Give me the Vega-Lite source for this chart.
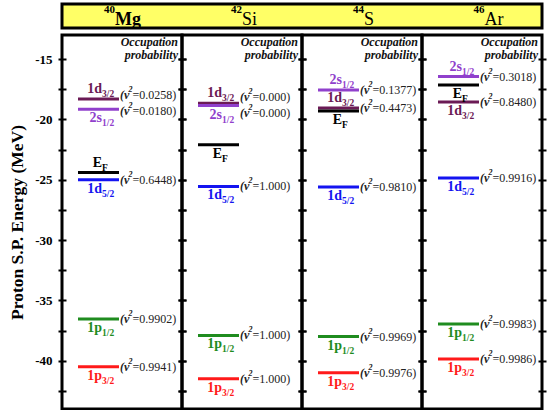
{
"$schema":"https://vega.github.io/schema/vega-lite/v6.json",
"background":"white",
"padding":{"left":7,"top":2,"right":5,"bottom":0},
"config":{"font":"'Liberation Serif', 'Times New Roman', serif","text":{"font":"'Liberation Serif', 'Times New Roman', serif"},"axis":{"labelFont":"'Liberation Serif', 'Times New Roman', serif","titleFont":"'Liberation Serif', 'Times New Roman', serif"},"view":{"stroke":"black","strokeWidth":3}},
"datasets":{
"nuclei":[{"nuc":"Mg","A":"40"},{"nuc":"Si","A":"42"},{"nuc":"S","A":"44"},{"nuc":"Ar","A":"46"}],
"levels":[
{"nuc":"Mg","lvl":"1d3/2","main":"1d","sub":"3/2","e":-18.3,"v2":"0.0258","side":"above"},
{"nuc":"Mg","lvl":"2s1/2","main":"2s","sub":"1/2","e":-19.15,"v2":"0.0180","side":"below"},
{"nuc":"Mg","lvl":"EF","main":"E","sub":"F","e":-24.4,"v2":null,"side":"above"},
{"nuc":"Mg","lvl":"1d5/2","main":"1d","sub":"5/2","e":-25.0,"v2":"0.6448","side":"below"},
{"nuc":"Mg","lvl":"1p1/2","main":"1p","sub":"1/2","e":-36.55,"v2":"0.9902","side":"below"},
{"nuc":"Mg","lvl":"1p3/2","main":"1p","sub":"3/2","e":-40.5,"v2":"0.9941","side":"below"},
{"nuc":"Si","lvl":"1d3/2","main":"1d","sub":"3/2","e":-18.65,"v2":"0.000","side":"above"},
{"nuc":"Si","lvl":"2s1/2","main":"2s","sub":"1/2","e":-18.85,"v2":"0.000","side":"below"},
{"nuc":"Si","lvl":"EF","main":"E","sub":"F","e":-22.1,"v2":null,"side":"below"},
{"nuc":"Si","lvl":"1d5/2","main":"1d","sub":"5/2","e":-25.55,"v2":"1.000","side":"below"},
{"nuc":"Si","lvl":"1p1/2","main":"1p","sub":"1/2","e":-37.9,"v2":"1.000","side":"below"},
{"nuc":"Si","lvl":"1p3/2","main":"1p","sub":"3/2","e":-41.5,"v2":"1.000","side":"below"},
{"nuc":"S","lvl":"2s1/2","main":"2s","sub":"1/2","e":-17.55,"v2":"0.1377","side":"above"},
{"nuc":"S","lvl":"1d3/2","main":"1d","sub":"3/2","e":-19.05,"v2":"0.4473","side":"above"},
{"nuc":"S","lvl":"EF","main":"E","sub":"F","e":-19.3,"v2":null,"side":"below"},
{"nuc":"S","lvl":"1d5/2","main":"1d","sub":"5/2","e":-25.6,"v2":"0.9810","side":"below"},
{"nuc":"S","lvl":"1p1/2","main":"1p","sub":"1/2","e":-38.0,"v2":"0.9969","side":"below"},
{"nuc":"S","lvl":"1p3/2","main":"1p","sub":"3/2","e":-41.0,"v2":"0.9976","side":"below"},
{"nuc":"Ar","lvl":"2s1/2","main":"2s","sub":"1/2","e":-16.45,"v2":"0.3018","side":"above"},
{"nuc":"Ar","lvl":"EF","main":"E","sub":"F","e":-17.15,"v2":null,"side":"below"},
{"nuc":"Ar","lvl":"1d3/2","main":"1d","sub":"3/2","e":-18.55,"v2":"0.8480","side":"below"},
{"nuc":"Ar","lvl":"1d5/2","main":"1d","sub":"5/2","e":-24.85,"v2":"0.9916","side":"below"},
{"nuc":"Ar","lvl":"1p1/2","main":"1p","sub":"1/2","e":-36.95,"v2":"0.9983","side":"below"},
{"nuc":"Ar","lvl":"1p3/2","main":"1p","sub":"3/2","e":-39.85,"v2":"0.9986","side":"below"}
]},
"spacing":7,
"bounds":"flush",
"vconcat":[
{"width":480,"height":24,"data":{"name":"nuclei"},
 "view":{"fill":"#ffff66","stroke":"black","strokeWidth":3},
 "layer":[
  {"transform":[{"filter":"datum.nuc==='Mg'"}],"mark":{"type":"text","align":"right","baseline":"alphabetic","dx":-7,"dy":-3.5,"fontSize":11,"fontWeight":"bold","color":"black"},"encoding":{"x":{"field":"nuc","type":"nominal","sort":["Mg","Si","S","Ar"],"scale":{"type":"point","domain":["Mg","Si","S","Ar"],"padding":0.5},"axis":null},"text":{"field":"A"}}},
  {"transform":[{"filter":"datum.nuc==='Mg'"}],"mark":{"type":"text","align":"left","baseline":"alphabetic","dx":-7,"dy":9,"fontSize":18,"fontWeight":"bold","color":"black"},"encoding":{"x":{"field":"nuc","type":"nominal","sort":["Mg","Si","S","Ar"],"scale":{"type":"point","domain":["Mg","Si","S","Ar"],"padding":0.5},"axis":null},"text":{"field":"nuc"}}},
  {"transform":[{"filter":"datum.nuc==='Si'"}],"mark":{"type":"text","align":"right","baseline":"alphabetic","dx":0,"dy":-3.5,"fontSize":11,"fontWeight":"bold","color":"black"},"encoding":{"x":{"field":"nuc","type":"nominal","sort":["Mg","Si","S","Ar"],"scale":{"type":"point","domain":["Mg","Si","S","Ar"],"padding":0.5},"axis":null},"text":{"field":"A"}}},
  {"transform":[{"filter":"datum.nuc==='Si'"}],"mark":{"type":"text","align":"left","baseline":"alphabetic","dx":0,"dy":9,"fontSize":18,"color":"black"},"encoding":{"x":{"field":"nuc","type":"nominal","sort":["Mg","Si","S","Ar"],"scale":{"type":"point","domain":["Mg","Si","S","Ar"],"padding":0.5},"axis":null},"text":{"field":"nuc"}}},
  {"transform":[{"filter":"datum.nuc==='S'"}],"mark":{"type":"text","align":"right","baseline":"alphabetic","dx":2,"dy":-3.5,"fontSize":11,"fontWeight":"bold","color":"black"},"encoding":{"x":{"field":"nuc","type":"nominal","sort":["Mg","Si","S","Ar"],"scale":{"type":"point","domain":["Mg","Si","S","Ar"],"padding":0.5},"axis":null},"text":{"field":"A"}}},
  {"transform":[{"filter":"datum.nuc==='S'"}],"mark":{"type":"text","align":"left","baseline":"alphabetic","dx":2,"dy":9,"fontSize":18,"color":"black"},"encoding":{"x":{"field":"nuc","type":"nominal","sort":["Mg","Si","S","Ar"],"scale":{"type":"point","domain":["Mg","Si","S","Ar"],"padding":0.5},"axis":null},"text":{"field":"nuc"}}},
  {"transform":[{"filter":"datum.nuc==='Ar'"}],"mark":{"type":"text","align":"right","baseline":"alphabetic","dx":2.5,"dy":-3.5,"fontSize":11,"fontWeight":"bold","color":"black"},"encoding":{"x":{"field":"nuc","type":"nominal","sort":["Mg","Si","S","Ar"],"scale":{"type":"point","domain":["Mg","Si","S","Ar"],"padding":0.5},"axis":null},"text":{"field":"A"}}},
  {"transform":[{"filter":"datum.nuc==='Ar'"}],"mark":{"type":"text","align":"left","baseline":"alphabetic","dx":2.5,"dy":9,"fontSize":18,"color":"black"},"encoding":{"x":{"field":"nuc","type":"nominal","sort":["Mg","Si","S","Ar"],"scale":{"type":"point","domain":["Mg","Si","S","Ar"],"padding":0.5},"axis":null},"text":{"field":"nuc"}}}
 ]},
{"spacing":0,"bounds":"flush","hconcat":[
 {"width":120,"height":374,"view":{"stroke":"black","strokeWidth":3},
  "data":{"name":"levels"},
  "transform":[{"filter":"datum.nuc==='Mg'"},{"calculate":"'=' + datum.v2 + ')'","as":"v2lab"}],
  "resolve":{"axis":{"y":"independent"}},
  "layer":[
   {"mark":{"type":"rule","strokeWidth":3},"encoding":{"x":{"datum":16,"type":"quantitative","scale":{"domain":[0,120]},"axis":null},"x2":{"datum":57},"y":{"field":"e","type":"quantitative","scale":{"domain":[-44,-13],"nice":false,"zero":false},"axis":{"orient":"left","values":[-42.5,-40,-37.5,-35,-32.5,-30,-27.5,-25,-22.5,-20,-17.5,-15],"labelExpr":"datum.value % 5 === 0 ? '' + datum.value : ''","domain":false,"grid":false,"tickSize":8,"tickWidth":2,"tickColor":"black","offset":-4,"labelFontWeight":"bold","labelFontSize":13,"labelColor":"black","labelPadding":6,"title":"Proton S.P. Energy (MeV)","titleFontSize":17.5,"titleFontWeight":"bold","titleColor":"black","titlePadding":8}},"color":{"field":"lvl","type":"nominal","scale":{"domain":["1d3/2","2s1/2","EF","1d5/2","1p1/2","1p3/2"],"range":["#6b1a55","#9040cc","#000000","#1414f0","#1f8c1f","#ff1a1a"]},"legend":null}}},
   {"transform":[{"filter":"datum.side==='above'"}],"mark":{"type":"text","align":"right","baseline":"alphabetic","dy":-6,"fontSize":14,"fontWeight":"bold"},"encoding":{"x":{"datum":40,"type":"quantitative","scale":{"domain":[0,120]},"axis":null},"y":{"field":"e","type":"quantitative","axis":{"orient":"right","values":[-42.5,-40,-37.5,-35,-32.5,-30,-27.5,-25,-22.5,-20,-17.5,-15],"labels":false,"domain":false,"grid":false,"tickSize":8,"tickWidth":2,"tickColor":"black","offset":-4,"title":null}},"text":{"field":"main"},"color":{"field":"lvl","type":"nominal","legend":null}}},
   {"transform":[{"filter":"datum.side==='above'"}],"mark":{"type":"text","align":"left","baseline":"alphabetic","dy":-2,"fontSize":9.5,"fontWeight":"bold"},"encoding":{"x":{"datum":40,"type":"quantitative","scale":{"domain":[0,120]},"axis":null},"y":{"field":"e","type":"quantitative","axis":null},"text":{"field":"sub"},"color":{"field":"lvl","type":"nominal","legend":null}}},
   {"transform":[{"filter":"datum.side==='below'"}],"mark":{"type":"text","align":"right","baseline":"alphabetic","dy":13,"fontSize":14,"fontWeight":"bold"},"encoding":{"x":{"datum":40,"type":"quantitative","scale":{"domain":[0,120]},"axis":null},"y":{"field":"e","type":"quantitative","axis":null},"text":{"field":"main"},"color":{"field":"lvl","type":"nominal","legend":null}}},
   {"transform":[{"filter":"datum.side==='below'"}],"mark":{"type":"text","align":"left","baseline":"alphabetic","dy":17,"fontSize":9.5,"fontWeight":"bold"},"encoding":{"x":{"datum":40,"type":"quantitative","scale":{"domain":[0,120]},"axis":null},"y":{"field":"e","type":"quantitative","axis":null},"text":{"field":"sub"},"color":{"field":"lvl","type":"nominal","legend":null}}},
   {"transform":[{"filter":"isValid(datum.v2) && datum.lvl!=='1d3/2' && datum.lvl!=='2s1/2'"}],"layer":[
     {"mark":{"type":"text","align":"left","baseline":"middle","fontSize":12,"fontStyle":"italic","fontWeight":"bold","color":"#222"},"encoding":{"x":{"datum":58,"type":"quantitative","scale":{"domain":[0,120]},"axis":null},"y":{"field":"e","type":"quantitative","axis":null},"text":{"value":"(v"}}},
     {"mark":{"type":"text","align":"left","baseline":"middle","dx":8.5,"dy":-5,"fontSize":8,"fontStyle":"italic","fontWeight":"bold","color":"#222"},"encoding":{"x":{"datum":58,"type":"quantitative","scale":{"domain":[0,120]},"axis":null},"y":{"field":"e","type":"quantitative","axis":null},"text":{"value":"2"}}},
     {"mark":{"type":"text","align":"left","baseline":"middle","dx":12.5,"fontSize":12,"color":"#222"},"encoding":{"x":{"datum":58,"type":"quantitative","scale":{"domain":[0,120]},"axis":null},"y":{"field":"e","type":"quantitative","axis":null},"text":{"field":"v2lab"}}}
   ]},
   {"transform":[{"filter":"datum.lvl==='1d3/2'"}],"layer":[
     {"mark":{"type":"text","align":"left","baseline":"middle","dy":-4,"fontSize":12,"fontStyle":"italic","fontWeight":"bold","color":"#222"},"encoding":{"x":{"datum":58,"type":"quantitative","scale":{"domain":[0,120]},"axis":null},"y":{"field":"e","type":"quantitative","axis":null},"text":{"value":"(v"}}},
     {"mark":{"type":"text","align":"left","baseline":"middle","dx":8.5,"dy":-9,"fontSize":8,"fontStyle":"italic","fontWeight":"bold","color":"#222"},"encoding":{"x":{"datum":58,"type":"quantitative","scale":{"domain":[0,120]},"axis":null},"y":{"field":"e","type":"quantitative","axis":null},"text":{"value":"2"}}},
     {"mark":{"type":"text","align":"left","baseline":"middle","dx":12.5,"dy":-4,"fontSize":12,"color":"#222"},"encoding":{"x":{"datum":58,"type":"quantitative","scale":{"domain":[0,120]},"axis":null},"y":{"field":"e","type":"quantitative","axis":null},"text":{"field":"v2lab"}}}
   ]},
   {"transform":[{"filter":"datum.lvl==='2s1/2'"}],"layer":[
     {"mark":{"type":"text","align":"left","baseline":"middle","dy":2,"fontSize":12,"fontStyle":"italic","fontWeight":"bold","color":"#222"},"encoding":{"x":{"datum":58,"type":"quantitative","scale":{"domain":[0,120]},"axis":null},"y":{"field":"e","type":"quantitative","axis":null},"text":{"value":"(v"}}},
     {"mark":{"type":"text","align":"left","baseline":"middle","dx":8.5,"dy":-3,"fontSize":8,"fontStyle":"italic","fontWeight":"bold","color":"#222"},"encoding":{"x":{"datum":58,"type":"quantitative","scale":{"domain":[0,120]},"axis":null},"y":{"field":"e","type":"quantitative","axis":null},"text":{"value":"2"}}},
     {"mark":{"type":"text","align":"left","baseline":"middle","dx":12.5,"dy":2,"fontSize":12,"color":"#222"},"encoding":{"x":{"datum":58,"type":"quantitative","scale":{"domain":[0,120]},"axis":null},"y":{"field":"e","type":"quantitative","axis":null},"text":{"field":"v2lab"}}}
   ]},
   {"transform":[{"filter":"datum.lvl==='EF'"}],"mark":{"type":"text","align":"right","baseline":"alphabetic","dy":11,"fontSize":12,"fontStyle":"italic","fontWeight":"bold","lineHeight":13,"color":"#111"},"encoding":{"x":{"datum":116,"type":"quantitative","scale":{"domain":[0,120]},"axis":null},"y":{"datum":-13,"type":"quantitative","axis":null},"text":{"value":["Occupation","probability"]}}}
  ]},
 {"width":120,"height":374,"view":{"stroke":"black","strokeWidth":3},
  "data":{"name":"levels"},
  "transform":[{"filter":"datum.nuc==='Si'"},{"calculate":"'=' + datum.v2 + ')'","as":"v2lab"}],
  "resolve":{"axis":{"y":"independent"}},
  "layer":[
   {"mark":{"type":"rule","strokeWidth":3},"encoding":{"x":{"datum":16,"type":"quantitative","scale":{"domain":[0,120]},"axis":null},"x2":{"datum":57},"y":{"field":"e","type":"quantitative","scale":{"domain":[-44,-13],"nice":false,"zero":false},"axis":{"orient":"left","values":[-42.5,-40,-37.5,-35,-32.5,-30,-27.5,-25,-22.5,-20,-17.5,-15],"labels":false,"domain":false,"grid":false,"tickSize":8,"tickWidth":2,"tickColor":"black","offset":-4,"title":null}},"color":{"field":"lvl","type":"nominal","scale":{"domain":["1d3/2","2s1/2","EF","1d5/2","1p1/2","1p3/2"],"range":["#6b1a55","#9040cc","#000000","#1414f0","#1f8c1f","#ff1a1a"]},"legend":null}}},
   {"transform":[{"filter":"datum.side==='above'"}],"mark":{"type":"text","align":"right","baseline":"alphabetic","dy":-6,"fontSize":14,"fontWeight":"bold"},"encoding":{"x":{"datum":40,"type":"quantitative","scale":{"domain":[0,120]},"axis":null},"y":{"field":"e","type":"quantitative","axis":{"orient":"right","values":[-42.5,-40,-37.5,-35,-32.5,-30,-27.5,-25,-22.5,-20,-17.5,-15],"labels":false,"domain":false,"grid":false,"tickSize":8,"tickWidth":2,"tickColor":"black","offset":-4,"title":null}},"text":{"field":"main"},"color":{"field":"lvl","type":"nominal","legend":null}}},
   {"transform":[{"filter":"datum.side==='above'"}],"mark":{"type":"text","align":"left","baseline":"alphabetic","dy":-2,"fontSize":9.5,"fontWeight":"bold"},"encoding":{"x":{"datum":40,"type":"quantitative","scale":{"domain":[0,120]},"axis":null},"y":{"field":"e","type":"quantitative","axis":null},"text":{"field":"sub"},"color":{"field":"lvl","type":"nominal","legend":null}}},
   {"transform":[{"filter":"datum.side==='below'"}],"mark":{"type":"text","align":"right","baseline":"alphabetic","dy":13,"fontSize":14,"fontWeight":"bold"},"encoding":{"x":{"datum":40,"type":"quantitative","scale":{"domain":[0,120]},"axis":null},"y":{"field":"e","type":"quantitative","axis":null},"text":{"field":"main"},"color":{"field":"lvl","type":"nominal","legend":null}}},
   {"transform":[{"filter":"datum.side==='below'"}],"mark":{"type":"text","align":"left","baseline":"alphabetic","dy":17,"fontSize":9.5,"fontWeight":"bold"},"encoding":{"x":{"datum":40,"type":"quantitative","scale":{"domain":[0,120]},"axis":null},"y":{"field":"e","type":"quantitative","axis":null},"text":{"field":"sub"},"color":{"field":"lvl","type":"nominal","legend":null}}},
   {"transform":[{"filter":"isValid(datum.v2) && datum.lvl!=='1d3/2' && datum.lvl!=='2s1/2'"}],"layer":[
     {"mark":{"type":"text","align":"left","baseline":"middle","fontSize":12,"fontStyle":"italic","fontWeight":"bold","color":"#222"},"encoding":{"x":{"datum":58,"type":"quantitative","scale":{"domain":[0,120]},"axis":null},"y":{"field":"e","type":"quantitative","axis":null},"text":{"value":"(v"}}},
     {"mark":{"type":"text","align":"left","baseline":"middle","dx":8.5,"dy":-5,"fontSize":8,"fontStyle":"italic","fontWeight":"bold","color":"#222"},"encoding":{"x":{"datum":58,"type":"quantitative","scale":{"domain":[0,120]},"axis":null},"y":{"field":"e","type":"quantitative","axis":null},"text":{"value":"2"}}},
     {"mark":{"type":"text","align":"left","baseline":"middle","dx":12.5,"fontSize":12,"color":"#222"},"encoding":{"x":{"datum":58,"type":"quantitative","scale":{"domain":[0,120]},"axis":null},"y":{"field":"e","type":"quantitative","axis":null},"text":{"field":"v2lab"}}}
   ]},
   {"transform":[{"filter":"datum.lvl==='1d3/2'"}],"layer":[
     {"mark":{"type":"text","align":"left","baseline":"middle","dy":-6,"fontSize":12,"fontStyle":"italic","fontWeight":"bold","color":"#222"},"encoding":{"x":{"datum":58,"type":"quantitative","scale":{"domain":[0,120]},"axis":null},"y":{"field":"e","type":"quantitative","axis":null},"text":{"value":"(v"}}},
     {"mark":{"type":"text","align":"left","baseline":"middle","dx":8.5,"dy":-11,"fontSize":8,"fontStyle":"italic","fontWeight":"bold","color":"#222"},"encoding":{"x":{"datum":58,"type":"quantitative","scale":{"domain":[0,120]},"axis":null},"y":{"field":"e","type":"quantitative","axis":null},"text":{"value":"2"}}},
     {"mark":{"type":"text","align":"left","baseline":"middle","dx":12.5,"dy":-6,"fontSize":12,"color":"#222"},"encoding":{"x":{"datum":58,"type":"quantitative","scale":{"domain":[0,120]},"axis":null},"y":{"field":"e","type":"quantitative","axis":null},"text":{"field":"v2lab"}}}
   ]},
   {"transform":[{"filter":"datum.lvl==='2s1/2'"}],"layer":[
     {"mark":{"type":"text","align":"left","baseline":"middle","dy":7,"fontSize":12,"fontStyle":"italic","fontWeight":"bold","color":"#222"},"encoding":{"x":{"datum":58,"type":"quantitative","scale":{"domain":[0,120]},"axis":null},"y":{"field":"e","type":"quantitative","axis":null},"text":{"value":"(v"}}},
     {"mark":{"type":"text","align":"left","baseline":"middle","dx":8.5,"dy":2,"fontSize":8,"fontStyle":"italic","fontWeight":"bold","color":"#222"},"encoding":{"x":{"datum":58,"type":"quantitative","scale":{"domain":[0,120]},"axis":null},"y":{"field":"e","type":"quantitative","axis":null},"text":{"value":"2"}}},
     {"mark":{"type":"text","align":"left","baseline":"middle","dx":12.5,"dy":7,"fontSize":12,"color":"#222"},"encoding":{"x":{"datum":58,"type":"quantitative","scale":{"domain":[0,120]},"axis":null},"y":{"field":"e","type":"quantitative","axis":null},"text":{"field":"v2lab"}}}
   ]},
   {"transform":[{"filter":"datum.lvl==='EF'"}],"mark":{"type":"text","align":"right","baseline":"alphabetic","dy":11,"fontSize":12,"fontStyle":"italic","fontWeight":"bold","lineHeight":13,"color":"#111"},"encoding":{"x":{"datum":116,"type":"quantitative","scale":{"domain":[0,120]},"axis":null},"y":{"datum":-13,"type":"quantitative","axis":null},"text":{"value":["Occupation","probability"]}}}
  ]},
 {"width":120,"height":374,"view":{"stroke":"black","strokeWidth":3},
  "data":{"name":"levels"},
  "transform":[{"filter":"datum.nuc==='S'"},{"calculate":"'=' + datum.v2 + ')'","as":"v2lab"}],
  "resolve":{"axis":{"y":"independent"}},
  "layer":[
   {"mark":{"type":"rule","strokeWidth":3},"encoding":{"x":{"datum":16,"type":"quantitative","scale":{"domain":[0,120]},"axis":null},"x2":{"datum":57},"y":{"field":"e","type":"quantitative","scale":{"domain":[-44,-13],"nice":false,"zero":false},"axis":{"orient":"left","values":[-42.5,-40,-37.5,-35,-32.5,-30,-27.5,-25,-22.5,-20,-17.5,-15],"labels":false,"domain":false,"grid":false,"tickSize":8,"tickWidth":2,"tickColor":"black","offset":-4,"title":null}},"color":{"field":"lvl","type":"nominal","scale":{"domain":["1d3/2","2s1/2","EF","1d5/2","1p1/2","1p3/2"],"range":["#6b1a55","#9040cc","#000000","#1414f0","#1f8c1f","#ff1a1a"]},"legend":null}}},
   {"transform":[{"filter":"datum.side==='above'"}],"mark":{"type":"text","align":"right","baseline":"alphabetic","dy":-6,"fontSize":14,"fontWeight":"bold"},"encoding":{"x":{"datum":40,"type":"quantitative","scale":{"domain":[0,120]},"axis":null},"y":{"field":"e","type":"quantitative","axis":{"orient":"right","values":[-42.5,-40,-37.5,-35,-32.5,-30,-27.5,-25,-22.5,-20,-17.5,-15],"labels":false,"domain":false,"grid":false,"tickSize":8,"tickWidth":2,"tickColor":"black","offset":-4,"title":null}},"text":{"field":"main"},"color":{"field":"lvl","type":"nominal","legend":null}}},
   {"transform":[{"filter":"datum.side==='above'"}],"mark":{"type":"text","align":"left","baseline":"alphabetic","dy":-2,"fontSize":9.5,"fontWeight":"bold"},"encoding":{"x":{"datum":40,"type":"quantitative","scale":{"domain":[0,120]},"axis":null},"y":{"field":"e","type":"quantitative","axis":null},"text":{"field":"sub"},"color":{"field":"lvl","type":"nominal","legend":null}}},
   {"transform":[{"filter":"datum.side==='below'"}],"mark":{"type":"text","align":"right","baseline":"alphabetic","dy":13,"fontSize":14,"fontWeight":"bold"},"encoding":{"x":{"datum":40,"type":"quantitative","scale":{"domain":[0,120]},"axis":null},"y":{"field":"e","type":"quantitative","axis":null},"text":{"field":"main"},"color":{"field":"lvl","type":"nominal","legend":null}}},
   {"transform":[{"filter":"datum.side==='below'"}],"mark":{"type":"text","align":"left","baseline":"alphabetic","dy":17,"fontSize":9.5,"fontWeight":"bold"},"encoding":{"x":{"datum":40,"type":"quantitative","scale":{"domain":[0,120]},"axis":null},"y":{"field":"e","type":"quantitative","axis":null},"text":{"field":"sub"},"color":{"field":"lvl","type":"nominal","legend":null}}},
   {"transform":[{"filter":"isValid(datum.v2)"}],"layer":[
     {"mark":{"type":"text","align":"left","baseline":"middle","fontSize":12,"fontStyle":"italic","fontWeight":"bold","color":"#222"},"encoding":{"x":{"datum":58,"type":"quantitative","scale":{"domain":[0,120]},"axis":null},"y":{"field":"e","type":"quantitative","axis":null},"text":{"value":"(v"}}},
     {"mark":{"type":"text","align":"left","baseline":"middle","dx":8.5,"dy":-5,"fontSize":8,"fontStyle":"italic","fontWeight":"bold","color":"#222"},"encoding":{"x":{"datum":58,"type":"quantitative","scale":{"domain":[0,120]},"axis":null},"y":{"field":"e","type":"quantitative","axis":null},"text":{"value":"2"}}},
     {"mark":{"type":"text","align":"left","baseline":"middle","dx":12.5,"fontSize":12,"color":"#222"},"encoding":{"x":{"datum":58,"type":"quantitative","scale":{"domain":[0,120]},"axis":null},"y":{"field":"e","type":"quantitative","axis":null},"text":{"field":"v2lab"}}}
   ]},
   {"transform":[{"filter":"datum.lvl==='EF'"}],"mark":{"type":"text","align":"right","baseline":"alphabetic","dy":11,"fontSize":12,"fontStyle":"italic","fontWeight":"bold","lineHeight":13,"color":"#111"},"encoding":{"x":{"datum":116,"type":"quantitative","scale":{"domain":[0,120]},"axis":null},"y":{"datum":-13,"type":"quantitative","axis":null},"text":{"value":["Occupation","probability"]}}}
  ]},
 {"width":120,"height":374,"view":{"stroke":"black","strokeWidth":3},
  "data":{"name":"levels"},
  "transform":[{"filter":"datum.nuc==='Ar'"},{"calculate":"'=' + datum.v2 + ')'","as":"v2lab"}],
  "resolve":{"axis":{"y":"independent"}},
  "layer":[
   {"mark":{"type":"rule","strokeWidth":3},"encoding":{"x":{"datum":16,"type":"quantitative","scale":{"domain":[0,120]},"axis":null},"x2":{"datum":57},"y":{"field":"e","type":"quantitative","scale":{"domain":[-44,-13],"nice":false,"zero":false},"axis":{"orient":"left","values":[-42.5,-40,-37.5,-35,-32.5,-30,-27.5,-25,-22.5,-20,-17.5,-15],"labels":false,"domain":false,"grid":false,"tickSize":8,"tickWidth":2,"tickColor":"black","offset":-4,"title":null}},"color":{"field":"lvl","type":"nominal","scale":{"domain":["1d3/2","2s1/2","EF","1d5/2","1p1/2","1p3/2"],"range":["#6b1a55","#9040cc","#000000","#1414f0","#1f8c1f","#ff1a1a"]},"legend":null}}},
   {"transform":[{"filter":"datum.side==='above'"}],"mark":{"type":"text","align":"right","baseline":"alphabetic","dy":-6,"fontSize":14,"fontWeight":"bold"},"encoding":{"x":{"datum":40,"type":"quantitative","scale":{"domain":[0,120]},"axis":null},"y":{"field":"e","type":"quantitative","axis":{"orient":"right","values":[-42.5,-40,-37.5,-35,-32.5,-30,-27.5,-25,-22.5,-20,-17.5,-15],"labels":false,"domain":false,"grid":false,"tickSize":8,"tickWidth":2,"tickColor":"black","offset":-4,"title":null}},"text":{"field":"main"},"color":{"field":"lvl","type":"nominal","legend":null}}},
   {"transform":[{"filter":"datum.side==='above'"}],"mark":{"type":"text","align":"left","baseline":"alphabetic","dy":-2,"fontSize":9.5,"fontWeight":"bold"},"encoding":{"x":{"datum":40,"type":"quantitative","scale":{"domain":[0,120]},"axis":null},"y":{"field":"e","type":"quantitative","axis":null},"text":{"field":"sub"},"color":{"field":"lvl","type":"nominal","legend":null}}},
   {"transform":[{"filter":"datum.side==='below'"}],"mark":{"type":"text","align":"right","baseline":"alphabetic","dy":13,"fontSize":14,"fontWeight":"bold"},"encoding":{"x":{"datum":40,"type":"quantitative","scale":{"domain":[0,120]},"axis":null},"y":{"field":"e","type":"quantitative","axis":null},"text":{"field":"main"},"color":{"field":"lvl","type":"nominal","legend":null}}},
   {"transform":[{"filter":"datum.side==='below'"}],"mark":{"type":"text","align":"left","baseline":"alphabetic","dy":17,"fontSize":9.5,"fontWeight":"bold"},"encoding":{"x":{"datum":40,"type":"quantitative","scale":{"domain":[0,120]},"axis":null},"y":{"field":"e","type":"quantitative","axis":null},"text":{"field":"sub"},"color":{"field":"lvl","type":"nominal","legend":null}}},
   {"transform":[{"filter":"isValid(datum.v2)"}],"layer":[
     {"mark":{"type":"text","align":"left","baseline":"middle","fontSize":12,"fontStyle":"italic","fontWeight":"bold","color":"#222"},"encoding":{"x":{"datum":58,"type":"quantitative","scale":{"domain":[0,120]},"axis":null},"y":{"field":"e","type":"quantitative","axis":null},"text":{"value":"(v"}}},
     {"mark":{"type":"text","align":"left","baseline":"middle","dx":8.5,"dy":-5,"fontSize":8,"fontStyle":"italic","fontWeight":"bold","color":"#222"},"encoding":{"x":{"datum":58,"type":"quantitative","scale":{"domain":[0,120]},"axis":null},"y":{"field":"e","type":"quantitative","axis":null},"text":{"value":"2"}}},
     {"mark":{"type":"text","align":"left","baseline":"middle","dx":12.5,"fontSize":12,"color":"#222"},"encoding":{"x":{"datum":58,"type":"quantitative","scale":{"domain":[0,120]},"axis":null},"y":{"field":"e","type":"quantitative","axis":null},"text":{"field":"v2lab"}}}
   ]},
   {"transform":[{"filter":"datum.lvl==='EF'"}],"mark":{"type":"text","align":"right","baseline":"alphabetic","dy":11,"fontSize":12,"fontStyle":"italic","fontWeight":"bold","lineHeight":13,"color":"#111"},"encoding":{"x":{"datum":116,"type":"quantitative","scale":{"domain":[0,120]},"axis":null},"y":{"datum":-13,"type":"quantitative","axis":null},"text":{"value":["Occupation","probability"]}}}
  ]}
]}
]
}
